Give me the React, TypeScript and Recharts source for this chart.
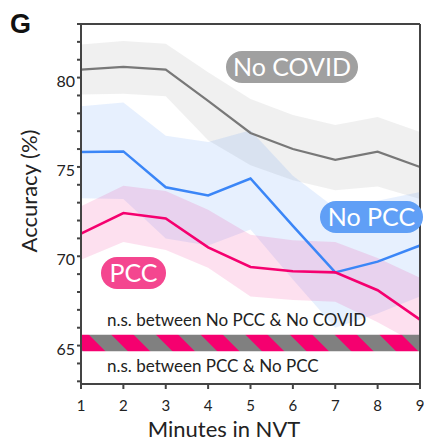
import React from 'react';
import { ComposedChart, Line, Area, XAxis, YAxis, ReferenceArea, ReferenceLine } from 'recharts';

const minutes = [1, 2, 3, 4, 5, 6, 7, 8, 9];

const noCovidMean = [80.45, 80.6, 80.45, 78.7, 76.9, 76.0, 75.4, 75.85, 75.0];
const noCovidHigh = [81.85, 82.05, 81.9, 80.3, 78.8, 77.9, 77.35, 77.8, 76.95];
const noCovidLow = [79.05, 79.1, 78.95, 76.5, 75.1, 74.25, 73.7, 73.9, 73.2];

const noPccMean = [75.83, 75.87, 73.86, 73.4, 74.35, 71.7, 69.1, 69.7, 70.6];
const noPccHigh = [78.4, 78.6, 76.75, 76.4, 77.05, 74.5, 72.7, 73.1, 73.6];
const noPccLow = [73.25, 73.2, 71.0, 70.6, 71.5, 68.7, 66.0, 66.8, 67.75];

const pccMean = [71.27, 72.42, 72.12, 70.5, 69.4, 69.16, 69.1, 68.1, 66.45];
const pccHigh = [72.8, 73.95, 73.65, 72.6, 71.2, 70.9, 70.8, 69.9, 68.8];
const pccLow = [69.8, 70.8, 70.35, 69.35, 67.75, 67.55, 67.45, 66.3, 65.0];

const yTicks = [63, 64, 65, 66, 67, 68, 69, 70, 71, 72, 73, 74, 75, 76, 77, 78, 79, 80, 81, 82, 83];

const data = minutes.map((m, i) => ({
  minute: m,
  noCovid: noCovidMean[i],
  noCovidBand: [noCovidLow[i], noCovidHigh[i]],
  noPcc: noPccMean[i],
  noPccBand: [noPccLow[i], noPccHigh[i]],
  pcc: pccMean[i],
  pccBand: [pccLow[i], pccHigh[i]],
}));

const FONT = 'Lato, "Open Sans", sans-serif';
const AXIS = '#444';
const PINK = '#f5006f';
const BLUE = '#3b86f7';
const GRAY = '#787878';

const YTick = (props: any) => {
  const { x, y, payload } = props;
  if (payload.value % 5 !== 0) return null;
  return (
    <text x={x} y={y + 9} textAnchor="end" fontFamily={FONT} fontSize={16} fill="#222">
      {payload.value}
    </text>
  );
};

const XTick = (props: any) => {
  const { x, y, payload } = props;
  return (
    <text x={x} y={y + 20} textAnchor="middle" fontFamily={FONT} fontSize={15} fill="#222">
      {payload.value}
    </text>
  );
};

const Pill = ({ x, y, w, h, fill, label }: { x: number; y: number; w: number; h: number; fill: string; label: string }) => (
  <g>
    <rect x={x} y={y} width={w} height={h} rx={h / 2} fill={fill} />
    <text x={x + w / 2} y={y + h / 2 + 9} textAnchor="middle" fontFamily={FONT} fontSize={25} fill="#fff">
      {label}
    </text>
  </g>
);

export default function App() {
  return (
    <div style={{ position: 'absolute', left: 0, top: 0, width: 424, height: 442, background: '#fff' }}>
      <svg width={0} height={0} style={{ position: 'absolute' }}>
        <defs>
          <pattern id="stripes" width={31.6} height={31.6} patternUnits="userSpaceOnUse" patternTransform="rotate(-45)">
            <rect x={0} y={0} width={31.6} height={31.6} fill="#808080" />
            <rect x={0} y={0} width={15.8} height={31.6} fill={PINK} />
          </pattern>
        </defs>
      </svg>
      <ComposedChart width={424} height={442} data={data} margin={{ top: 24, right: 4, left: 0, bottom: 0 }}>
        <XAxis
          type="number"
          dataKey="minute"
          domain={[1, 9]}
          ticks={minutes}
          tick={<XTick />}
          tickSize={5}
          height={58}
          stroke={AXIS}
          strokeWidth={2}
          tickLine={{ stroke: AXIS, strokeWidth: 2 }}
        />
        <YAxis
          type="number"
          domain={[62.85, 83]}
          ticks={yTicks}
          tick={<YTick />}
          tickSize={4}
          width={81}
          interval={0}
          stroke={AXIS}
          strokeWidth={2}
          tickLine={{ stroke: AXIS, strokeWidth: 2 }}
        />
        <Area dataKey="noCovidBand" stroke="none" fill="#808080" fillOpacity={0.12} isAnimationActive={false} activeDot={false} />
        <Area dataKey="noPccBand" stroke="none" fill="#3b82f6" fillOpacity={0.12} isAnimationActive={false} activeDot={false} />
        <Area dataKey="pccBand" stroke="none" fill="#f0047f" fillOpacity={0.12} isAnimationActive={false} activeDot={false} />
        <Line dataKey="noCovid" stroke={GRAY} strokeWidth={2.2} dot={false} activeDot={false} isAnimationActive={false} />
        <Line dataKey="noPcc" stroke={BLUE} strokeWidth={2.5} dot={false} activeDot={false} isAnimationActive={false} />
        <Line dataKey="pcc" stroke={PINK} strokeWidth={2.6} dot={false} activeDot={false} isAnimationActive={false} />
        <ReferenceArea x1={1} x2={9} y1={64.68} y2={65.61} fill="url(#stripes)" fillOpacity={1} stroke="none" />
        <ReferenceLine y={83} stroke={AXIS} strokeWidth={2} />
        <ReferenceLine x={9} stroke={AXIS} strokeWidth={2} />
      </ComposedChart>
      <svg width={424} height={442} style={{ position: 'absolute', left: 0, top: 0, pointerEvents: 'none' }}>
        <text x={10} y={33} fontFamily='"Liberation Sans", Arial, sans-serif' fontWeight="bold" fontSize={27} fill="#111">
          G
        </text>
        <text
          transform="translate(37,191) rotate(-90)"
          textAnchor="middle"
          fontFamily={FONT}
          fontSize={22}
          fill="#222"
        >
          Accuracy (%)
        </text>
        <text x={224} y={437} textAnchor="middle" fontFamily={FONT} fontSize={22} fill="#222">
          Minutes in NVT
        </text>
        <Pill x={226} y={51} w={132} h={32} fill="#a0a0a0" label="No COVID" />
        <Pill x={320} y={201} w={103} h={32} fill="#609ff6" label="No PCC" />
        <Pill x={101} y={257} w={65} h={32} fill="#f4468f" label="PCC" />
        <text x={107} y={326} fontFamily={FONT} fontSize={17} fill="#222">
          n.s. between No PCC &amp; No COVID
        </text>
        <text x={107} y={372} fontFamily={FONT} fontSize={17} fill="#222">
          n.s. between PCC &amp; No PCC
        </text>
      </svg>
    </div>
  );
}
